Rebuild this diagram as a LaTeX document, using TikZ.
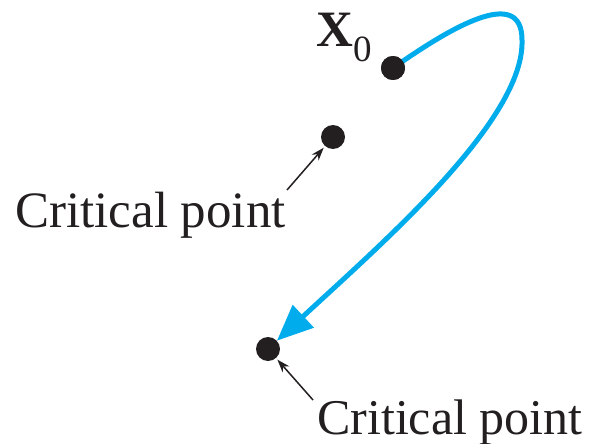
\documentclass[tikz,border=0pt]{standalone}
\usepackage{fontspec}
\setmainfont{Liberation Serif}
\usetikzlibrary{arrows.meta}
\definecolor{trajblue}{RGB}{0,172,236}
\definecolor{dotblack}{RGB}{35,31,32}
\tikzset{
  pt/.style={circle, fill=dotblack, inner sep=0pt, minimum size=24pt},
  lbl/.style={inner sep=0pt, text=dotblack, font=\fontsize{51}{60}\selectfont},
  traj/.style={draw=trajblue, line width=5pt, -{Triangle[length=36pt,width=30pt]}},
  pointer/.style={draw=dotblack, line width=1.5pt, -{Stealth[length=13pt,width=9pt]}, shorten >=2pt}
}
\begin{document}
\begin{tikzpicture}[x=1pt,y=-1pt]
\useasboundingbox (0,0) rectangle (589,444);
\node[pt] (x0) at (393,68) {};
\node[pt] (cp1) at (333,137) {};
\node[pt] (cp2) at (268,349) {};
\coordinate (turn) at (522,40);
\draw[trajblue, line width=5pt] (x0.center) .. controls (450,28) and (522,-15) .. (turn);
\draw[traj] (turn) .. controls (525,120) and (380,245) .. (cp2);
\node[lbl, anchor=base west] (x0lbl) at (316,47) {\textbf{X}\raisebox{-15pt}{\fontsize{37}{40}\selectfont 0}};
\node[lbl, anchor=base west] (lbl1) at (15,227) {Critical point};
\node[lbl, anchor=base west, font=\fontsize{50}{60}\selectfont] (lbl2) at (317,434) {Critical point};
\coordinate (a1) at (287,190);
\coordinate (a2) at (313,400);
\draw[pointer] (a1) -- (cp1);
\draw[pointer] (a2) -- (cp2);
\node[pt] at (x0) {};
\end{tikzpicture}
\end{document}
